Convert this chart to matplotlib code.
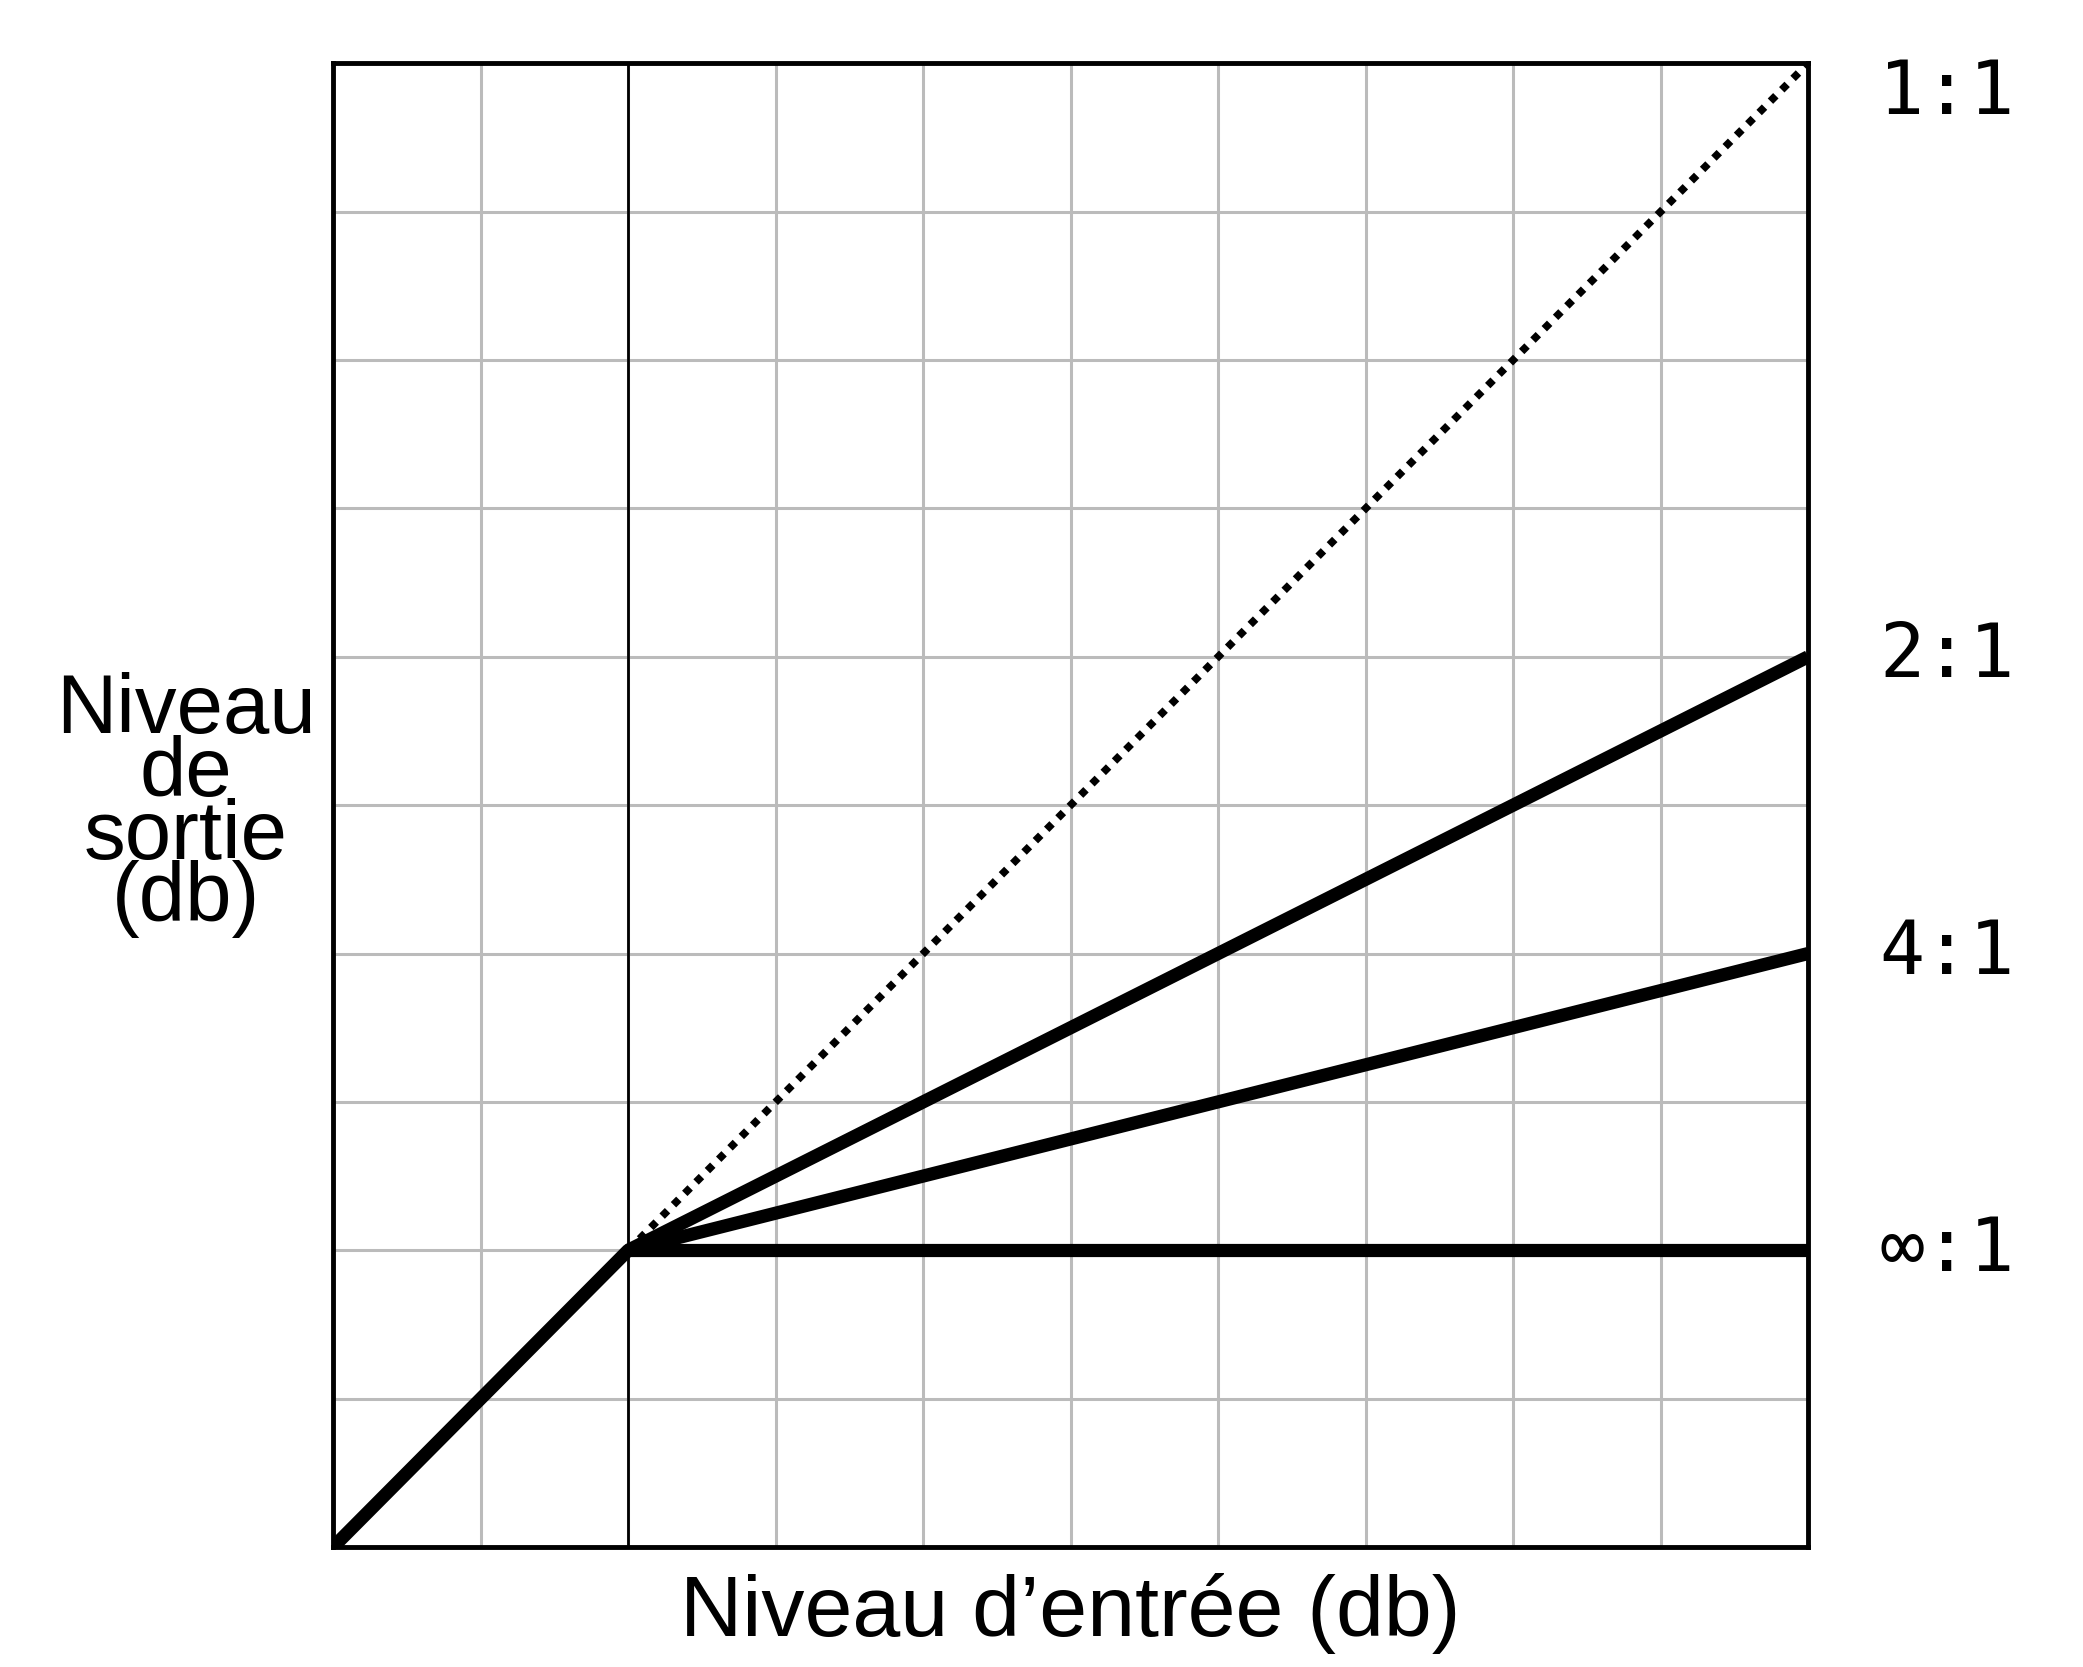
import matplotlib
matplotlib.use("Agg")
import matplotlib.pyplot as plt

# threshold point and compression ratios
threshold = 2
x_max = 10
ratio_labels = ["1:1", "2:1", "4:1", "∞:1"]
end_levels = [10, 6, 4, 2]
label_levels = [9.8, 6, 4, 2]

fig = plt.figure(figsize=(20.83, 16.67), dpi=100)
ax = fig.add_axes([0.16, 0.072, 0.708, 0.890])
ax.set_xlim(0, 10)
ax.set_ylim(0, 10)

for v in range(1, 10):
    ax.axvline(v, color="#bbbbbb", lw=2.2, zorder=0)
    ax.axhline(v, color="#bbbbbb", lw=2.2, zorder=0)
ax.axvline(threshold, color="black", lw=2, zorder=1)

ax.plot([0, threshold], [0, threshold], color="black", lw=9.5, solid_capstyle="round")
for lab, y_end, y_lab in zip(ratio_labels, end_levels, label_levels):
    if lab == "1:1":
        ax.plot([threshold, x_max], [threshold, y_end], color="black", lw=5.5, ls=(0, (1, 1.1)))
    else:
        ax.plot([threshold, x_max], [threshold, y_end], color="black", lw=9.5, solid_capstyle="butt")
    ax.text(1.14, y_lab / 10, lab, transform=ax.transAxes, ha="right", va="center",
            fontsize=54, family="DejaVu Sans Mono")

ax.set_xticks([])
ax.set_yticks([])
for s in ax.spines.values():
    s.set_linewidth(3.5)

sans = ["Liberation Sans", "DejaVu Sans"]
ax.text(0.5, -0.045, "Niveau d\u2019entrée (db)", transform=ax.transAxes, ha="center", va="center",
        fontsize=62, family=sans)
ax.text(-0.1, 0.5, "Niveau\nde\nsortie\n(db)", transform=ax.transAxes, ha="center", va="center",
        fontsize=60, family=sans, linespacing=0.75)

fig.savefig("out.png")
